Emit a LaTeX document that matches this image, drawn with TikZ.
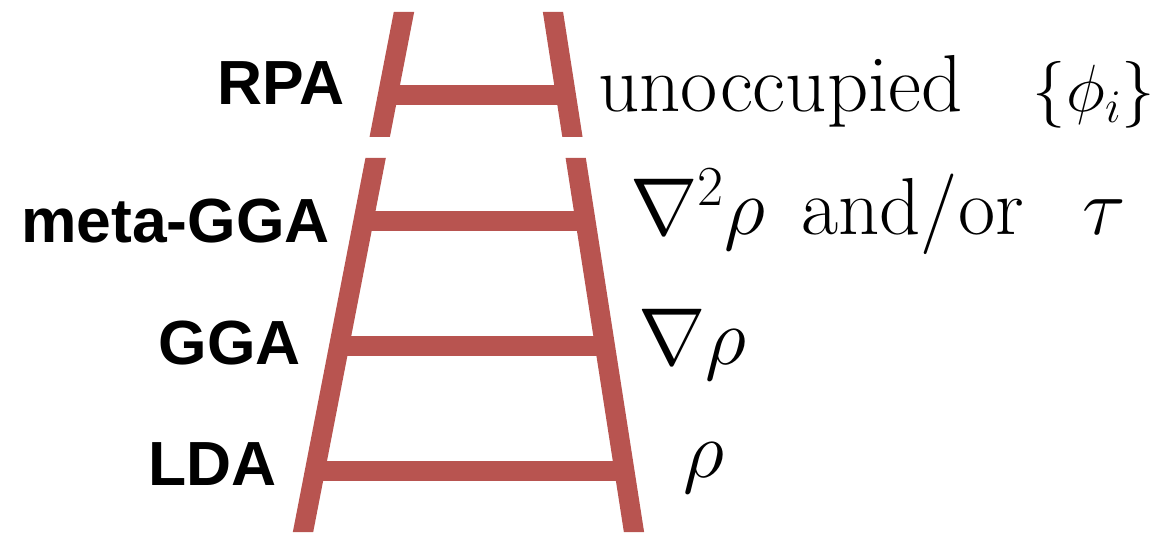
\RequirePackage{fix-cm}
\documentclass[tikz,border=0pt]{standalone}
\usepackage{fontspec}
\setsansfont{Liberation Sans}
\usetikzlibrary{calc,positioning}
\definecolor{ladderred}{RGB}{184,84,80}

\begin{document}
\begin{tikzpicture}[
		x=0.02cm, y=-0.02cm,
		rail/.style={draw=ladderred, line width=0.4cm},
		level/.style={font=\sffamily\bfseries\fontsize{35.5}{37}\selectfont, inner sep=0pt, anchor=base east},
		ingredient/.style={font=\fontsize{46}{48}\selectfont, inner sep=0pt, anchor=base west},
	]
	\useasboundingbox (0,0) rectangle (1156,533);
	% rails, cut at the top, the gap and the bottom
	\coordinate (ltop) at (406.3,0);
	\coordinate (lbot) at (300.5,545);
	\coordinate (rtop) at (551.1,0);
	\coordinate (rbot) at (636.0,545);
	\begin{scope}
		\clip (0,12) rectangle (1156,137) (0,158) rectangle (1156,532);
		\draw[rail] (ltop) -- (lbot);
		\draw[rail] (rtop) -- (rbot);
	\end{scope}
	% rungs
	\foreach \name/\y in {rpa/95, meta/221, gga/346, lda/471} {
		\coordinate (\name-l) at ($(ltop)!{\y/545}!(lbot)$);
		\coordinate (\name-r) at ($(rtop)!{\y/545}!(rbot)$);
		\draw[rail] (\name-l) -- (\name-r);
	}
	% rung names
	\node[level] (rpa) at (345,105) {RPA};
	\node[level] (meta) at (330,243) {meta-GGA};
	\node[level] (gga) at (301,365) {GGA};
	\node[level] (lda) at (277,485) {LDA};
	% ingredients
	\node[ingredient] (rpa-in) at (598,112) {unoccupied\hspace{40pt}{\fontsize{38}{40}\selectfont$\{\phi_i\}$}};
	\node[ingredient] (meta-in) at (630,235) {$\nabla^2\rho\;\,\mathrm{and/or}\;\;\,\tau$};
	\node[ingredient] (gga-in) at (638,365) {$\nabla\rho$};
	\node[ingredient] (lda-in) at (683,477) {$\rho$};
\end{tikzpicture}
\end{document}
